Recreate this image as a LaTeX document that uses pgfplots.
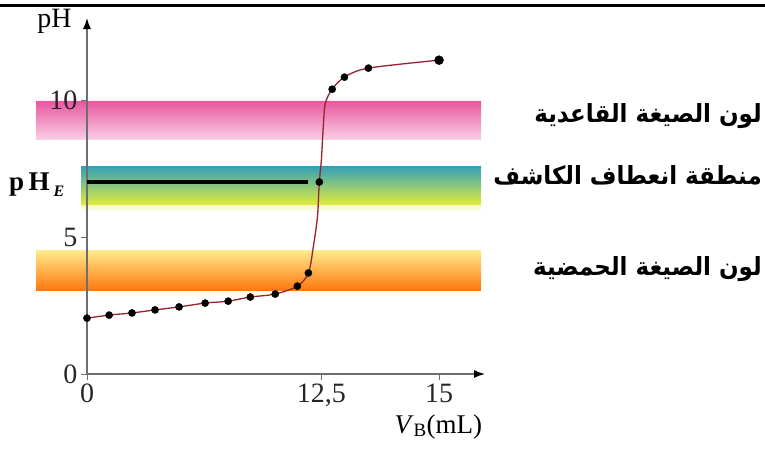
\documentclass[border=0pt]{standalone}
\usepackage{pgfplots}
\pgfplotsset{compat=1.18}
\usetikzlibrary{arrows.meta}
\usepackage{fontspec}
\setmainfont{Liberation Serif}
\newfontfamily\arabicfont[Script=Arabic]{DejaVu Sans}
\TeXXeTstate=1
\definecolor{curvec}{RGB}{150,35,45}
\definecolor{axisgray}{RGB}{110,110,110}
\definecolor{pinkT}{RGB}{233,90,160}
\definecolor{pinkB}{RGB}{249,205,228}
\definecolor{tealT}{RGB}{50,160,185}
\definecolor{greenM}{RGB}{150,205,110}
\definecolor{yelB}{RGB}{228,236,60}
\definecolor{orT}{RGB}{255,236,140}
\definecolor{orM}{RGB}{255,200,20}
\definecolor{orB}{RGB}{255,120,15}
\newcommand\artext[1]{\scalebox{0.92}[1]{\arabicfont\bfseries\fontsize{25}{27}\selectfont\beginR #1\endR}}
\begin{document}
\begin{tikzpicture}[x=1pt,y=1pt]
\path[use as bounding box] (0,0) rectangle (765,448);
\draw[line width=3.5pt] (0,442.5) -- (765,442.5);
% colour bands of the indicator
\shade[top color=white, bottom color=pinkT!12] (36,346) rectangle (481,352);
\shade[top color=pinkT, bottom color=pinkB] (36,309) rectangle (481,346);
\shade[top color=tealT, middle color=greenM, bottom color=yelB] (81,243) rectangle (481,282);
\shade[top color=yelB!35, bottom color=white] (81,236) rectangle (481,243);
\shade[top color=orT, middle color=orM, bottom color=orB] (36,158) rectangle (481,198);
\begin{axis}[
  at={(87pt,74pt)}, anchor=south west,
  width=398pt, height=356pt, scale only axis,
  xmin=0, xmax=15.976, ymin=0, ymax=13,
  x coord trafo/.code={\pgfmathparse{(#1<=12.5)*(#1)+(#1>12.5)*(12.5+((#1)-12.5)*2.511)}},
  axis lines=left,
  axis line style={draw=axisgray, line width=1.3pt, -{Latex[length=11pt,width=8pt,color=black]}},
  tick align=outside, major tick length=6pt,
  tick style={draw=axisgray, line width=1pt},
  xtick={0,12.5,15}, xticklabels={0,{12,5},15},
  ytick={0,5,10}, yticklabels={0,5,10},
  tick label style={font=\fontsize{28}{30}\selectfont, text=black!85},
  /pgf/number format/assume math mode=true,
  clip=false,
]
% pH_E line
\addplot[black, line width=3.5pt] coordinates {(0,7.01) (11.81,7.01)};
% titration curve
\addplot[curvec, line width=1.3pt, smooth] coordinates {
(0,2.04) (1.18,2.15) (2.40,2.23) (3.63,2.34) (4.91,2.45) (6.30,2.59)
(7.53,2.66) (8.71,2.81) (10.04,2.92) (11.22,3.21) (11.81,3.69)
(12.07,4.64) (12.29,5.73) (12.39,7.01) (12.5,7.81) (12.54,9.01)
(12.585,9.89) (12.73,10.40) (12.99,10.84) (13.50,11.17) (15.0,11.46)};
% measured points
\addplot[only marks, mark=*, mark size=3.6pt, black] coordinates {
(0,2.04) (1.18,2.15) (2.40,2.23) (3.63,2.34) (4.91,2.45) (6.30,2.59)
(7.53,2.66) (8.71,2.81) (10.04,2.92) (11.22,3.21) (11.81,3.69)
(12.39,7.01) (12.73,10.40) (12.99,10.84) (13.50,11.17)};
\addplot[only marks, mark=*, mark size=4.5pt, black] coordinates {(15.0,11.46)};
\end{axis}
\node[anchor=base, font=\fontsize{28}{30}\selectfont] at (54.5,420) {pH};
\node[anchor=base west, font=\fontsize{27}{29}\selectfont] at (391,15) {\textit{V}\textsubscript{B}(mL)};
\node[anchor=base west, font=\bfseries\fontsize{27}{29}\selectfont, inner sep=0pt] at (9,258) {p\,H\hspace{4pt}\raisebox{-6pt}{\fontsize{16}{18}\selectfont\textit{E}}};
\node[anchor=base east, inner sep=0pt] at (762,326) {\artext{لون الصيغة القاعدية}};
\node[anchor=base east, inner sep=0pt] at (762,264) {\artext{منطقة انعطاف الكاشف}};
\node[anchor=base east, inner sep=0pt] at (762,173) {\artext{لون الصيغة الحمضية}};
\end{tikzpicture}
\end{document}
